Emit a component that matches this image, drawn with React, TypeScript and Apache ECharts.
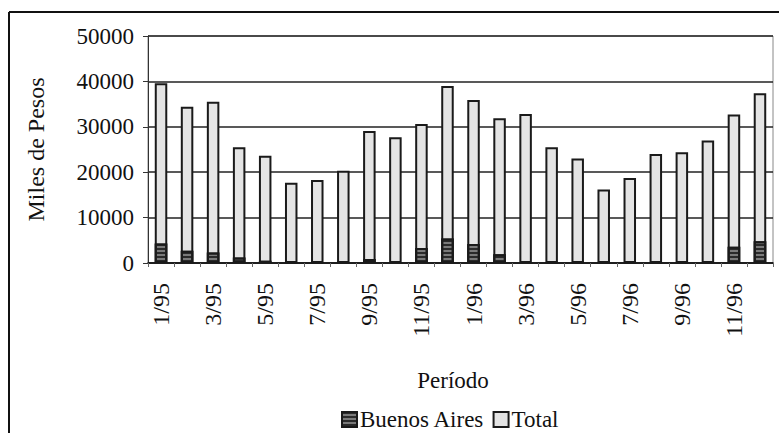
import React, { useEffect, useRef } from "react";
import * as echarts from "echarts";

const categories = [
  "1/95", "2/95", "3/95", "4/95", "5/95", "6/95", "7/95", "8/95", "9/95", "10/95", "11/95", "12/95",
  "1/96", "2/96", "3/96", "4/96", "5/96", "6/96", "7/96", "8/96", "9/96", "10/96", "11/96", "12/96",
];
const totalValues = [
  39600, 34400, 35500, 25500, 23600, 17700, 18300, 20300, 29100, 27700, 30600, 39000,
  35900, 31900, 32800, 25500, 23000, 16200, 18700, 24000, 24400, 27000, 32700, 37400,
];
const buenosAiresValues = [
  4300, 2700, 2300, 1200, 500, 300, 300, 300, 900, 400, 3300, 5400,
  4200, 1900, 400, 300, 300, 200, 300, 300, 300, 300, 3600, 4800,
];
const yTicks = [0, 10000, 20000, 30000, 40000, 50000];

const FONT = "Liberation Serif";

export default function App() {
  const ref = useRef<HTMLDivElement>(null);
  useEffect(() => {
    if (!ref.current) return;
    const chart = echarts.init(ref.current, undefined, { renderer: "svg" });
    chart.setOption({
      animation: false,
      backgroundColor: "#ffffff",
      textStyle: { fontFamily: FONT, color: "#111" },
      grid: { left: 148, right: 6, top: 36, bottom: 170, show: true, borderColor: "#888", borderWidth: 1, backgroundColor: "transparent" },
      legend: {
        data: ["Buenos Aires", "Total"],
        top: 403,
        left: 336,
        icon: "rect",
        itemWidth: 15,
        itemHeight: 15,
        itemGap: 8,
        textStyle: { fontFamily: FONT, fontSize: 23, color: "#111", padding: [0, 0, 0, -2] },
      },
      xAxis: {
        type: "category",
        data: categories,
        boundaryGap: true,
        axisLine: { lineStyle: { color: "#111", width: 1.5 } },
        axisTick: { show: true, interval: 0, length: 4, lineStyle: { color: "#666" } },
        axisLabel: {
          interval: 1,
          rotate: 90,
          margin: 20,
          fontFamily: FONT,
          fontSize: 24,
          color: "#111",
        },
        splitLine: { show: false },
      },
      yAxis: {
        type: "value",
        min: yTicks[0],
        max: yTicks[yTicks.length - 1],
        interval: 10000,
        name: "Miles de Pesos",
        nameLocation: "middle",
        nameGap: 100,
        nameTextStyle: { fontFamily: FONT, fontSize: 24, color: "#111" },
        axisLine: { show: true, lineStyle: { color: "#333", width: 1 } },
        axisTick: { show: true, length: 5, lineStyle: { color: "#333" } },
        axisLabel: { fontFamily: FONT, fontSize: 23, color: "#111", margin: 14, formatter: (v: number) => String(v) },
        splitLine: { show: true, lineStyle: { color: "#222", width: 1.5 } },
      },
      graphic: [
        { type: "line", shape: { x1: 9, y1: 12, x2: 779, y2: 12 }, style: { stroke: "#111", lineWidth: 2 } },
        { type: "line", shape: { x1: 9, y1: 12, x2: 9, y2: 433 }, style: { stroke: "#111", lineWidth: 2 } },
        {
          type: "text",
          x: 453,
          y: 380,
          style: { text: "Período", fontFamily: FONT, fontSize: 23, fill: "#111", align: "center", verticalAlign: "middle" },
        },
      ],
      series: [
        {
          name: "Total",
          type: "bar",
          data: totalValues,
          barWidth: "48%",
          itemStyle: { color: "#e4e4e4", borderColor: "#1a1a1a", borderWidth: 2 },
        },
        {
          name: "Buenos Aires",
          type: "bar",
          data: buenosAiresValues,
          barWidth: "48%",
          barGap: "-100%",
          itemStyle: {
            color: "#7a7a7a",
            borderColor: "#1a1a1a",
            borderWidth: 2,
            decal: { symbol: "rect", dashArrayX: [1, 0], dashArrayY: [2, 2], color: "#2a2a2a", rotation: 0 },
          },
        },
      ],
    });
    return () => chart.dispose();
  }, []);
  return <div ref={ref} style={{ width: 779, height: 433, position: "absolute", left: 0, top: 0 }} />;
}
